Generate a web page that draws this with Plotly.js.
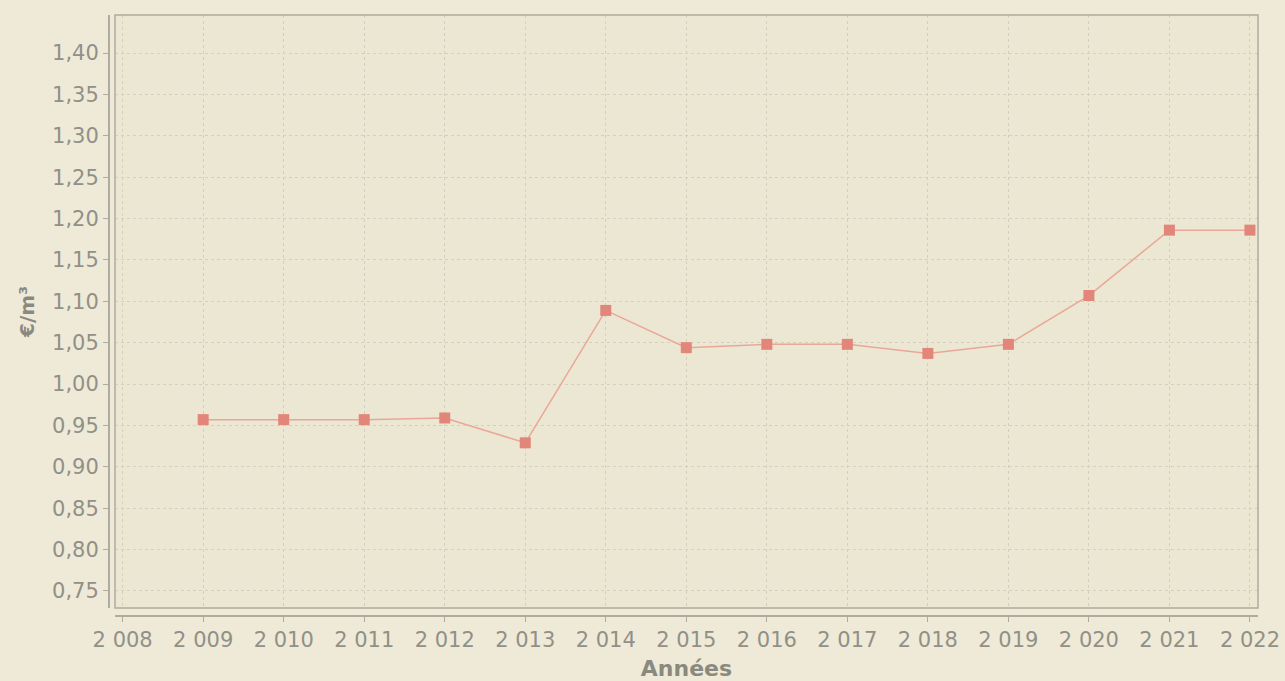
<!DOCTYPE html>
<html>
<head>
<meta charset="utf-8">
<script src="https://cdn.plot.ly/plotly-3.0.1.min.js"></script>
<style>
html,body{margin:0;padding:0;background:#eeead7;}
#chart{width:1285px;height:681px;}
</style>
</head>
<body>
<div id="chart"></div>
<script>
const years = [2009, 2010, 2011, 2012, 2013, 2014, 2015, 2016, 2017, 2018, 2019, 2020, 2021, 2022];
const prices = [0.957, 0.957, 0.957, 0.959, 0.929, 1.089, 1.044, 1.048, 1.048, 1.037, 1.048, 1.107, 1.186, 1.186];
const xTickVals = [2008, 2009, 2010, 2011, 2012, 2013, 2014, 2015, 2016, 2017, 2018, 2019, 2020, 2021, 2022];
const xTickText = ["2 008", "2 009", "2 010", "2 011", "2 012", "2 013", "2 014", "2 015", "2 016", "2 017", "2 018", "2 019", "2 020", "2 021", "2 022"];
const yTickVals = [0.75, 0.80, 0.85, 0.90, 0.95, 1.00, 1.05, 1.10, 1.15, 1.20, 1.25, 1.30, 1.35, 1.40];
const yTickText = ["0,75", "0,80", "0,85", "0,90", "0,95", "1,00", "1,05", "1,10", "1,15", "1,20", "1,25", "1,30", "1,35", "1,40"];

const textColor = '#919088';
const gridColor = '#d4d0bf';
const axisColor = '#aeaca0';

const trace = {
  x: years,
  y: prices,
  type: 'scatter',
  mode: 'lines+markers',
  line: {color: '#eaa797', width: 1.5},
  marker: {symbol: 'square', size: 11, color: '#e2867a'},
  showlegend: false,
  hoverinfo: 'x+y'
};

const layout = {
  width: 1285,
  height: 681,
  paper_bgcolor: '#eeead7',
  plot_bgcolor: '#ebe7d3',
  margin: {l: 108, r: 27, t: 15, b: 66},
  font: {family: 'DejaVu Sans, sans-serif', color: textColor, size: 21},
  xaxis: {
    domain: [0.0061, 1],
    anchor: 'free',
    position: 0,
    range: [2007.905, 2022.1],
    tickmode: 'array',
    tickvals: xTickVals,
    ticktext: xTickText,
    ticks: 'outside',
    ticklen: 5,
    tickcolor: axisColor,
    showline: true,
    linecolor: axisColor,
    linewidth: 1.5,
    showgrid: true,
    gridcolor: gridColor,
    griddash: 'dot',
    gridwidth: 1,
    zeroline: false,
    tickfont: {size: 21, color: textColor},
    title: {text: 'Années', font: {size: 22, color: '#8a8980', weight: 'bold'}, standoff: 10}
  },
  yaxis: {
    domain: [0.0117, 1],
    anchor: 'free',
    position: 0,
    range: [0.7294, 1.446],
    tickmode: 'array',
    tickvals: yTickVals,
    ticktext: yTickText,
    ticks: 'outside',
    ticklen: 5,
    tickcolor: axisColor,
    showline: true,
    linecolor: axisColor,
    linewidth: 1.5,
    showgrid: true,
    gridcolor: gridColor,
    griddash: 'dot',
    gridwidth: 1,
    zeroline: false,
    tickfont: {size: 21, color: textColor},
    title: {text: '€/m³', font: {size: 20, color: '#8a8980', weight: 'bold'}, standoff: 10}
  },
  shapes: [
    {type: 'rect', xref: 'paper', yref: 'paper', x0: 0.0061, x1: 1, y0: 0.0117, y1: 1,
     line: {color: axisColor, width: 1.5}, fillcolor: 'rgba(0,0,0,0)', layer: 'above'}
  ]
};

Plotly.newPlot('chart', [trace], layout, {displayModeBar: false, staticPlot: true});
</script>
</body>
</html>
